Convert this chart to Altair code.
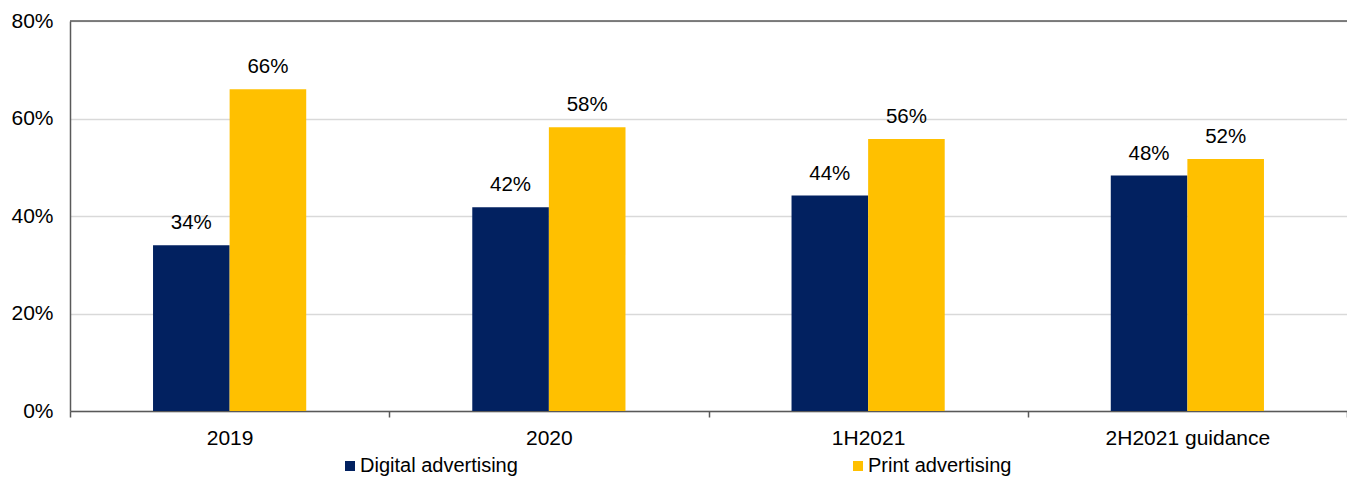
import altair as alt
import pandas as pd

categories = ["2019", "2020", "1H2021", "2H2021 guidance"]
digital = [34.0, 41.8, 44.2, 48.3]
print_ = [66.0, 58.2, 55.8, 51.7]
digital_labels = ["34%", "42%", "44%", "48%"]
print_labels = ["66%", "58%", "56%", "52%"]
series = ["Digital advertising", "Print advertising"]
colors = ["#022160", "#FFC000"]

rows = []
for c, d, p, dl, pl in zip(categories, digital, print_, digital_labels, print_labels):
    rows.append({"cat": c, "series": series[0], "value": d, "label": dl})
    rows.append({"cat": c, "series": series[1], "value": p, "label": pl})
df = pd.DataFrame(rows)

FONT = "Liberation Sans"
FS = 21

# offset domain with empty slots on either side so the pair of bars sits centred in each category
offset_domain = ["_left"] + series + ["_right"]

x = alt.X("cat:N", sort=categories, title=None,
          scale=alt.Scale(paddingInner=0, paddingOuter=0),
          axis=alt.Axis(labelAngle=0, tickBand="extent", tickSize=6, tickColor="#595959",
                        tickWidth=1.5,
                        domainColor="#595959", domainWidth=1.5, labelPadding=10,
                        labelFontSize=FS, labelFont=FONT, labelColor="#000000", grid=False))
y = alt.Y("value:Q", title=None,
          scale=alt.Scale(domain=[0, 80], nice=False),
          axis=alt.Axis(values=[0, 20, 40, 60, 80], labelExpr="datum.value + '%'",
                        ticks=False, labelPadding=17, labelFontSize=FS, labelFont=FONT,
                        labelColor="#000000", domainColor="#595959", domainWidth=1.5,
                        gridColor="#D9D9D9", gridWidth=1.5))
xo = alt.XOffset("series:N",
                 scale=alt.Scale(domain=offset_domain, paddingInner=0, paddingOuter=0.084))

base = alt.Chart(df)

bars = base.mark_bar().encode(
    x=x, y=y, xOffset=xo,
    color=alt.Color("series:N", sort=series,
                    scale=alt.Scale(domain=series, range=colors),
                    legend=alt.Legend(title=None, orient="none", legendX=270, legendY=435,
                                      direction="horizontal", columns=2, columnPadding=330,
                                      symbolType="square", symbolSize=100, symbolStrokeWidth=0,
                                      labelFontSize=20, labelFont=FONT, labelColor="#000000",
                                      labelOffset=0, labelLimit=400))
)

text = base.mark_text(baseline="bottom", dy=-12, fontSize=20.5, font=FONT, color="#000000").encode(
    x=alt.X("cat:N", sort=categories), y="value:Q", xOffset=xo, text="label:N"
)

top = alt.Chart(pd.DataFrame({"v": [80]})).mark_rule(color="#595959", strokeWidth=1.5).encode(
    y=alt.Y("v:Q")
)

chart = alt.layer(bars, text, top).properties(
    width=1277, height=390,
    padding={"left": 70, "top": 21, "right": 0, "bottom": 66},
    autosize=alt.AutoSizeParams(type="none"),
).configure_view(stroke=None)

chart.save("out.html", embed_options={"renderer": "svg", "actions": False})
